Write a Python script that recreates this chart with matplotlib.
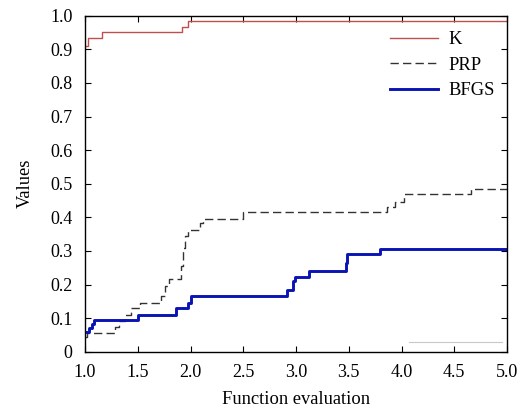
import matplotlib
matplotlib.use("Agg")
import matplotlib.pyplot as plt

# ---- data ----
k_x = [1.00, 1.03, 1.16, 1.92, 1.98, 5.00]
k_y = [0.909, 0.934, 0.951, 0.966, 0.985, 0.985]

prp_x = [1.00, 1.02, 1.28, 1.32, 1.38, 1.44, 1.52, 1.72, 1.76, 1.80, 1.91, 1.93,
         1.95, 1.98, 2.09, 2.12, 2.50, 3.86, 3.94, 4.02, 4.66, 5.00]
prp_y = [0.045, 0.057, 0.075, 0.09, 0.11, 0.13, 0.145, 0.165, 0.195, 0.217, 0.255, 0.31,
         0.345, 0.362, 0.383, 0.396, 0.415, 0.43, 0.446, 0.469, 0.485, 0.485]

bfgs_x = [1.00, 1.04, 1.07, 1.09, 1.50, 1.86, 1.98, 2.00, 2.91, 2.97, 2.99, 3.12,
          3.47, 3.48, 3.80, 5.00]
bfgs_y = [0.058, 0.07, 0.082, 0.094, 0.11, 0.13, 0.145, 0.165, 0.185, 0.21, 0.221, 0.239,
          0.265, 0.292, 0.307, 0.307]

artifact_x = [4.07, 4.95]
artifact_y = [0.03, 0.03]

x_ticks = [1.0, 1.5, 2.0, 2.5, 3.0, 3.5, 4.0, 4.5, 5.0]
x_ticklabels = ["1.0", "1.5", "2.0", "2.5", "3.0", "3.5", "4.0", "4.5", "5.0"]
y_ticks = [0, 0.1, 0.2, 0.3, 0.4, 0.5, 0.6, 0.7, 0.8, 0.9, 1.0]
y_ticklabels = ["0", "0.1", "0.2", "0.3", "0.4", "0.5", "0.6", "0.7", "0.8", "0.9", "1.0"]

plt.rcParams["font.family"] = ["Liberation Serif", "DejaVu Serif"]

fig = plt.figure(figsize=(5.26, 4.09), dpi=100)
ax = fig.add_axes([0.1616, 0.140, 0.8023, 0.8216])

ax.plot(artifact_x, artifact_y, color="#c8c8c8", lw=0.8)
ax.plot(k_x, k_y, drawstyle="steps-post", color="#c0504d", lw=1.0, label="K")
ax.plot(prp_x, prp_y, drawstyle="steps-post", color="#333333", lw=1.0,
        dashes=(6, 3), label="PRP")
ax.plot(bfgs_x, bfgs_y, drawstyle="steps-post", color="#0a14b4", lw=2.1, label="BFGS")

ax.set_xlim(1.0, 5.0)
ax.set_ylim(0, 1.0)
ax.set_xticks(x_ticks)
ax.set_xticklabels(x_ticklabels)
ax.set_yticks(y_ticks)
ax.set_yticklabels(y_ticklabels)
ax.tick_params(direction="in", length=4, width=0.8, top=True, right=True,
               labelsize=13)
ax.tick_params(axis="x", pad=9)
ax.tick_params(axis="y", pad=9)

ax.set_xlabel("Function evaluation", fontsize=13.3, labelpad=7)
ax.set_ylabel("Values", fontsize=13.3, labelpad=12)

leg = ax.legend(loc="upper left", frameon=False, fontsize=13.3,
                handlelength=2.6, labelspacing=0.45, handletextpad=0.55,
                borderaxespad=0.0, bbox_to_anchor=(0.706, 0.975))

for s in ax.spines.values():
    s.set_linewidth(1.0)

fig.savefig("out.png", dpi=100)
